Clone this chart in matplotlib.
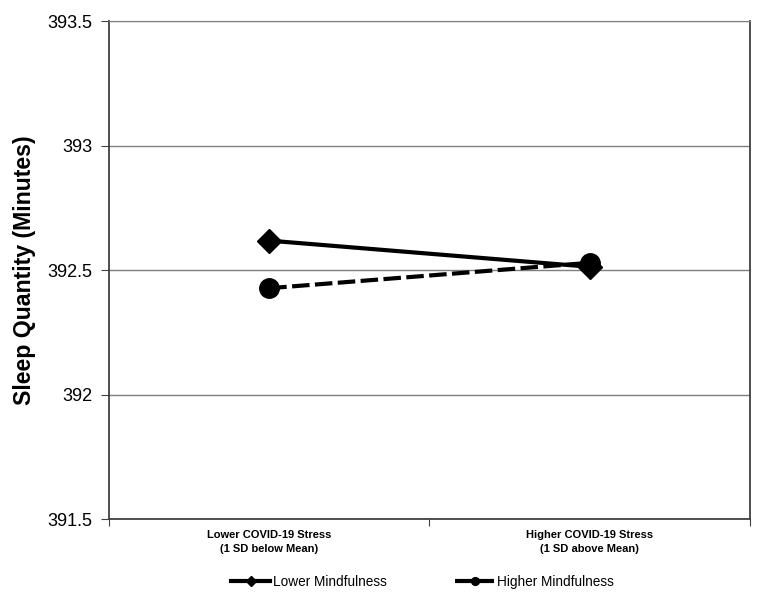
import matplotlib.pyplot as plt
import numpy as np

plt.rcParams['font.family'] = ['Liberation Sans', 'DejaVu Sans']

# Donnees
categories = ['Lower COVID-19 Stress\n(1 SD below Mean)',
              'Higher COVID-19 Stress\n(1 SD above Mean)']
lower_mindfulness = [392.618, 392.513]
higher_mindfulness = [392.427, 392.529]
y_ticks = [391.5, 392, 392.5, 393, 393.5]
y_tick_labels = ['391.5', '392', '392.5', '393', '393.5']

fig = plt.figure(figsize=(7.67, 6.04), dpi=100)
ax = fig.add_axes([0.1421, 0.1407, 0.8357, 0.8245])

x = np.arange(len(categories))

# ------ Lignes ------
ax.plot(x, lower_mindfulness, color='black', lw=3, marker='D', markersize=12.5,
        label='Lower Mindfulness', zorder=3)
ax.plot(x, higher_mindfulness, color='black', lw=3, marker='o', markersize=14,
        dashes=(4.2, 1.3), label='Higher Mindfulness', zorder=4)

# Axes
ax.set_xlim(-0.5, 1.5)
ax.set_ylim(391.5, 393.5)
ax.set_yticks(y_ticks)
ax.set_yticklabels(y_tick_labels, fontsize=13)
ax.set_xticks([-0.5, 0.5, 1.5])
ax.set_xticklabels([])
ax.set_xticks(x, minor=True)
ax.set_xticklabels(categories, minor=True, fontsize=8, fontweight='bold', linespacing=1.45)
ax.tick_params(axis='x', which='minor', length=0, pad=8)
ax.tick_params(axis='x', which='major', length=5, color='#404040', direction='out')
ax.tick_params(axis='y', length=6, color='#404040', direction='out', pad=6)

ax.yaxis.grid(True, color='#7f7f7f', lw=1)
ax.set_axisbelow(True)
for side in ['left', 'bottom', 'right']:
    ax.spines[side].set_color('#404040')
    ax.spines[side].set_linewidth(1.3)
ax.spines['top'].set_color('#7f7f7f')

ax.set_ylabel('Sleep Quantity (Minutes)', fontsize=16.7, fontweight='bold', labelpad=8)

# Legende
ax.legend(loc='upper center', bbox_to_anchor=(0.489, -0.088), ncol=2, frameon=False,
          fontsize=9.8, markerscale=0.4, handlelength=2.9, handletextpad=0.2,
          columnspacing=5.0)

plt.savefig('out.png', dpi=100)
